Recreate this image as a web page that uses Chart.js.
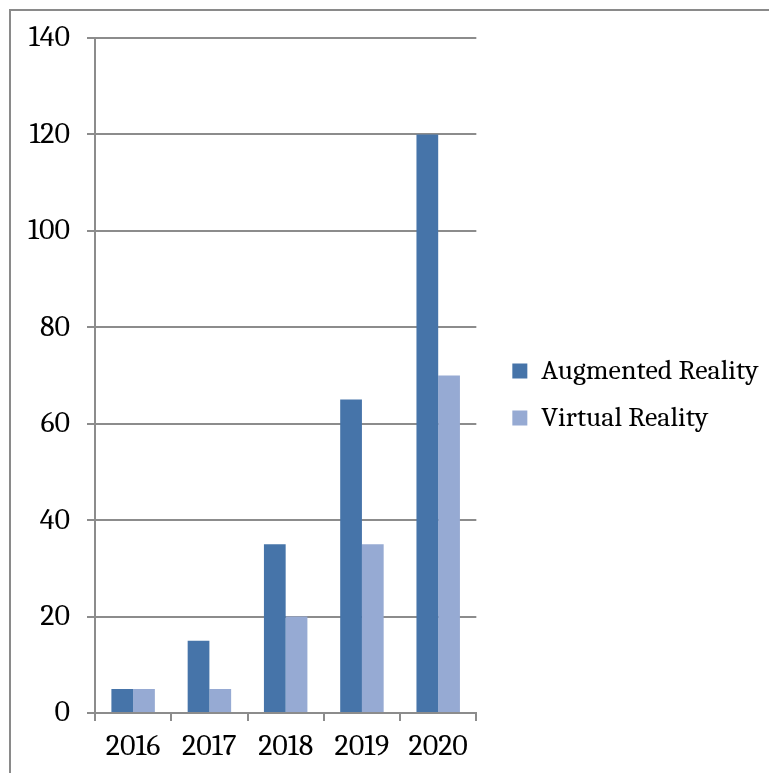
<!DOCTYPE html>
<html>
<head>
<meta charset="utf-8">
<script src="https://cdn.jsdelivr.net/npm/chart.js@4"></script>
<style>
  html, body { margin: 0; padding: 0; background: #fff; }
  #frame {
    position: absolute; left: 9px; top: 9px; width: 760px; height: 764px;
    border-left: 2px solid #8a8a8a; border-top: 2px solid #8a8a8a;
  }
  #wrap { position: absolute; left: 0; top: 0; width: 769px; height: 773px; }
</style>
</head>
<body>
<div id="frame"></div>
<div id="wrap"><canvas id="chart"></canvas></div>
<script>
// === Data ===
const YEARS = ['2016', '2017', '2018', '2019', '2020'];
const AR_VALUES = [5, 15, 35, 65, 120];
const VR_VALUES = [5, 5, 20, 35, 70];
const Y_TICKS = [0, 20, 40, 60, 80, 100, 120, 140];

const FAMILY = "'Cambria', 'Liberation Serif', serif";
const FONT = { family: FAMILY, size: 30 };
const LEGEND_FONT = { family: FAMILY, size: 28 };
const GRID = '#8c8c8c';

// the layout caps a side legend's width and the legend clips to its box,
// so stretch the box to the canvas edge once the layout is done
const widenLegend = {
    id: 'widenLegend',
    afterLayout(chart) {
        const lg = chart.legend;
        if (!lg) return;
        lg.right = chart.width;
        lg.width = lg.right - lg.left;
        lg.top -= 11;
        lg.bottom -= 11;
    }
};

new Chart(document.getElementById('chart'), {
    type: 'bar',
    data: {
        labels: YEARS,
        datasets: [{
            label: 'Augmented Reality',
            data: AR_VALUES,
            backgroundColor: '#4674a9',
            categoryPercentage: 0.57,
            barPercentage: 1.0
        }, {
            label: 'Virtual Reality',
            data: VR_VALUES,
            backgroundColor: '#96aad3',
            categoryPercentage: 0.57,
            barPercentage: 1.0
        }]
    },
    options: {
        responsive: true,
        maintainAspectRatio: false,
        animation: false,
        layout: { padding: { top: 38, bottom: 0, left: 0, right: 177 } },
        scales: {
            x: {
                grid: {
                    offset: true,
                    drawOnChartArea: false,
                    color: GRID,
                    lineWidth: 2,
                    tickLength: 8
                },
                border: { color: GRID, width: 2 },
                ticks: { color: '#000', font: FONT, padding: 8 }
            },
            y: {
                min: 0,
                max: 140,
                afterBuildTicks: (s) => { s.ticks = Y_TICKS.map(v => ({ value: v })); },
                afterFit: (s) => { s.width = 95; },
                grid: { color: GRID, lineWidth: 2, tickLength: 8 },
                border: { color: GRID, width: 2 },
                ticks: { color: '#000', font: FONT, padding: 17 }
            },
            pad: {
                position: 'right',
                display: true,
                afterFit: (s) => { s.width = 17; },
                grid: { display: false },
                border: { display: false },
                ticks: { display: false }
            }
        },
        plugins: {
            legend: {
                position: 'right',
                labels: {
                    color: '#000',
                    font: LEGEND_FONT,
                    boxWidth: 15,
                    boxHeight: 15,
                    padding: 19
                }
            },
            tooltip: { enabled: false }
        }
    },
    plugins: [widenLegend]
});
</script>
</body>
</html>
